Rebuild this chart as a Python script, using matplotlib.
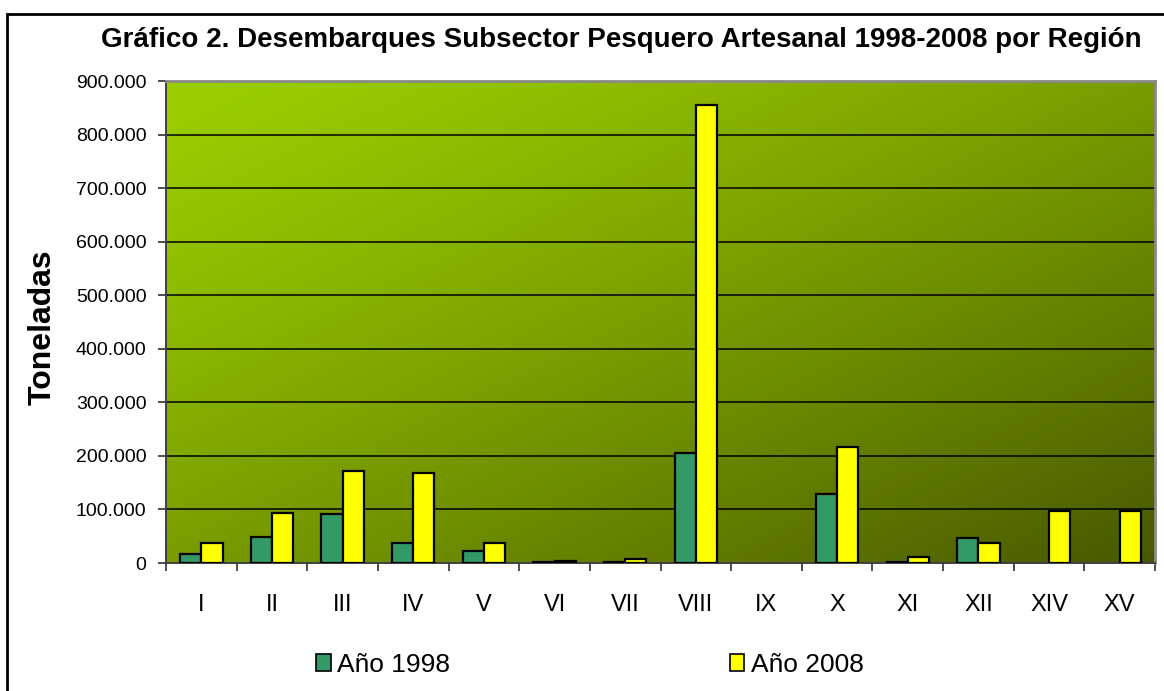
import numpy as np
import matplotlib
matplotlib.use('Agg')
import matplotlib.pyplot as plt
from matplotlib.patches import Rectangle
from matplotlib.ticker import FuncFormatter

# data (tonnes)
regiones = ['I', 'II', 'III', 'IV', 'V', 'VI', 'VII', 'VIII', 'IX', 'X', 'XI', 'XII', 'XIV', 'XV']
anio_1998 = [17000, 49000, 92000, 37000, 23000, 2500, 2000, 205000, 0, 129000, 2000, 46000, 0, 0]
anio_2008 = [37000, 93000, 171000, 168000, 37000, 3000, 8000, 855000, 0, 216000, 12000, 37000, 98000, 98000]
yticks = list(range(0, 900001, 100000))

arial = ['Liberation Sans', 'DejaVu Sans']

W, H = 1164, 691
fig = plt.figure(figsize=(W / 100, H / 100), dpi=100)
fig.patch.set_facecolor('white')

ax = fig.add_axes([166 / W, 1 - 563 / H, (1155 - 166) / W, (563 - 81) / H])

# diagonal gradient background (light top-left -> dark bottom-right)
gx, gy = np.meshgrid(np.linspace(0, 1, 300), np.linspace(0, 1, 200))
t = ((gx + gy) / 2.0) ** 1.25
c0 = np.array([155, 206, 0]) / 255
c1 = np.array([72, 88, 0]) / 255
img = c0[None, None, :] * (1 - t[..., None]) + c1[None, None, :] * t[..., None]
ax.imshow(img, extent=[-0.5, 13.5, 0, 900000], aspect='auto', zorder=0, origin='upper')

x = np.arange(len(regiones))
w = 0.3
lw1 = [1.6 if v > 0 else 0 for v in anio_1998]
lw2 = [1.6 if v > 0 else 0 for v in anio_2008]
ax.bar(x - w / 2, anio_1998, w, color='#339966', edgecolor='black', linewidth=lw1, zorder=3)
ax.bar(x + w / 2, anio_2008, w, color='#FFFF00', edgecolor='black', linewidth=lw2, zorder=3)

ax.set_xlim(-0.5, 13.5)
ax.set_ylim(0, 900000)
ax.set_yticks(yticks)
ax.yaxis.set_major_formatter(FuncFormatter(lambda v, p: '0' if v == 0 else f'{int(v):,}'.replace(',', '.')))
for v in yticks[1:]:
    ax.axhline(v, color='black', lw=1.1, zorder=1)

# ticks between categories, labels at centers
ax.set_xticks(np.arange(-0.5, 14, 1))
ax.set_xticklabels([])
ax.set_xticks(x, minor=True)
ax.set_xticklabels(regiones, minor=True, fontsize=17, family=arial)
ax.tick_params(axis='x', which='minor', length=0, pad=22)
ax.tick_params(axis='x', which='major', length=6, width=1.3, color='#404040', direction='out')
ax.tick_params(axis='y', length=6, width=1.3, color='#404040', direction='out', pad=8, labelsize=14)
for lab in ax.get_yticklabels():
    lab.set_family(arial)

for s in ['left', 'bottom']:
    ax.spines[s].set_color('#404040')
    ax.spines[s].set_linewidth(1.4)
for s in ['top', 'right']:
    ax.spines[s].set_color('#8a8a8a')
    ax.spines[s].set_linewidth(2)

ax.set_ylabel('Toneladas', fontsize=23, fontweight='bold', family=arial)
ax.yaxis.set_label_coords(-(166 - 58) / (1155 - 166), 0.49)

# title
fig.text(101 / W, 1 - 47 / H, 'Gráfico 2. Desembarques Subsector Pesquero Artesanal 1998-2008 por Región',
         fontsize=20, fontweight='bold', family=arial, ha='left', va='baseline')

# legend
h1 = Rectangle((0, 0), 1, 1, facecolor='#339966', edgecolor='black', linewidth=1.2)
h2 = Rectangle((0, 0), 1, 1, facecolor='#FFFF00', edgecolor='black', linewidth=1.2)
leg = fig.legend([h1, h2], ['Año 1998', 'Año 2008'], ncol=2, frameon=False,
                 loc='center left', bbox_to_anchor=(316 / W, 1 - 665 / H),
                 prop={'family': arial, 'size': 19}, handlelength=0.55, handleheight=0.6,
                 handletextpad=0.25, columnspacing=10.6, borderpad=0, borderaxespad=0)

# outer chart frame
fig.patches.append(Rectangle((7 / W, -0.1), 1.2, 1 - 14 / H + 0.1, transform=fig.transFigure,
                             fill=False, edgecolor='black', linewidth=2, clip_on=False))

fig.savefig('out.png', dpi=100)
